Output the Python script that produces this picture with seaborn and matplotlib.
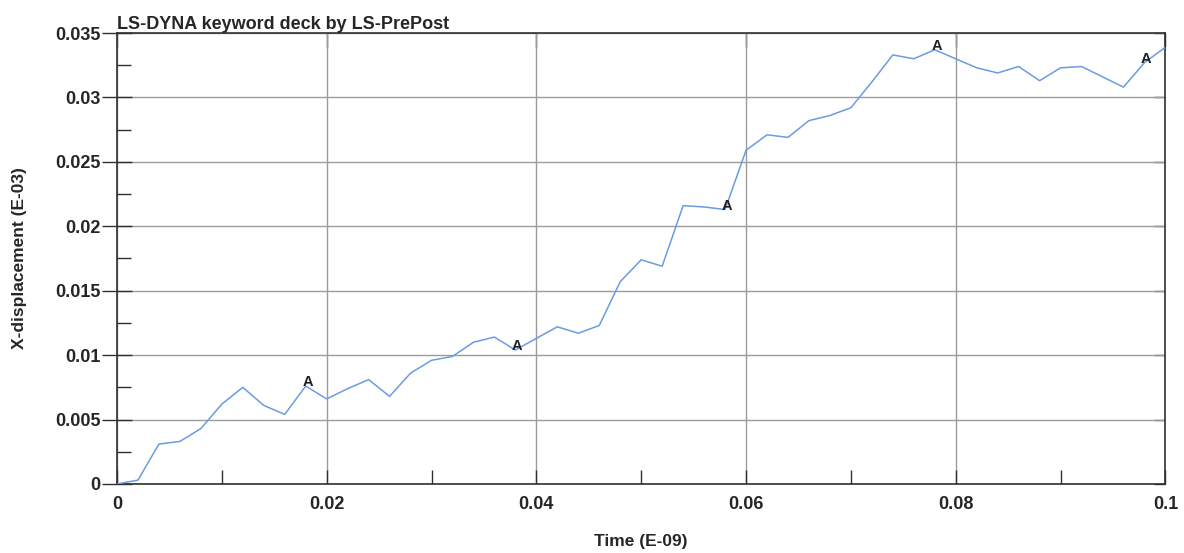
import numpy as np
import pandas as pd
import seaborn as sns
import matplotlib.pyplot as plt
from matplotlib import ticker, transforms

# Curve (time step 0.002)
time = [0.000, 0.002, 0.004, 0.006, 0.008, 0.010, 0.012, 0.014, 0.016, 0.018,
        0.020, 0.022, 0.024, 0.026, 0.028, 0.030, 0.032, 0.034, 0.036, 0.038,
        0.040, 0.042, 0.044, 0.046, 0.048, 0.050, 0.052, 0.054, 0.056, 0.058,
        0.060, 0.062, 0.064, 0.066, 0.068, 0.070, 0.072, 0.074, 0.076, 0.078,
        0.080, 0.082, 0.084, 0.086, 0.088, 0.090, 0.092, 0.094, 0.096, 0.098,
        0.100]
x_disp = [0.0000, 0.0003, 0.0031, 0.0033, 0.0043, 0.0062, 0.0075, 0.0061, 0.0054, 0.0076,
          0.0066, 0.0074, 0.0081, 0.0068, 0.0086, 0.0096, 0.0099, 0.0110, 0.0114, 0.0104,
          0.0113, 0.0122, 0.0117, 0.0123, 0.0157, 0.0174, 0.0169, 0.0216, 0.0215, 0.0213,
          0.0259, 0.0271, 0.0269, 0.0282, 0.0286, 0.0292, 0.0312, 0.0333, 0.0330, 0.0337,
          0.0330, 0.0323, 0.0319, 0.0324, 0.0313, 0.0323, 0.0324, 0.0316, 0.0308, 0.0327,
          0.0339]
label_every = 10
label_start = 9

x_ticks = [0, 0.02, 0.04, 0.06, 0.08, 0.1]
x_ticklabels = ["0", "0.02", "0.04", "0.06", "0.08", "0.1"]
y_ticks = [0, 0.005, 0.01, 0.015, 0.02, 0.025, 0.03, 0.035]
y_ticklabels = ["0", "0.005", "0.01", "0.015", "0.02", "0.025", "0.03", "0.035"]

df = pd.DataFrame({"time": time, "xdisp": x_disp})

sns.set_style("white")
plt.rcParams["font.family"] = ["Liberation Sans", "DejaVu Sans"]
plt.rcParams["font.weight"] = "bold"

fig = plt.figure(figsize=(11.84, 5.53), dpi=100)
ax = fig.add_axes([0.0988, 0.1248, 0.8855, 0.8155])

ax.grid(True, which="major", color="#9c9c9c", linewidth=1.0)
sns.lineplot(data=df, x="time", y="xdisp", ax=ax, color="#6a9be3",
             linewidth=1.1, zorder=3)

# curve labels every 10th point
shift = transforms.ScaledTranslation(2 / 100, 4 / 100, fig.dpi_scale_trans)
for i in range(label_start, len(time), label_every):
    ax.text(time[i], x_disp[i], "A", ha="center", va="center",
            fontsize=10.5, fontweight="bold", color="#202020", zorder=4,
            transform=ax.transData + shift)

ax.set_xlim(0, 0.1)
ax.set_ylim(0, 0.035)
ax.set_xticks(x_ticks)
ax.set_xticklabels(x_ticklabels)
ax.set_yticks(y_ticks)
ax.set_yticklabels(y_ticklabels)
ax.xaxis.set_minor_locator(ticker.MultipleLocator(0.01))
ax.yaxis.set_minor_locator(ticker.MultipleLocator(0.0025))

ax.tick_params(axis="both", which="both", direction="in", bottom=True, left=True,
               top=False, right=False, color="#303030", width=1.0,
               labelsize=13, length=10)
ax.tick_params(axis="y", which="major", direction="inout", length=22, pad=1)
ax.tick_params(axis="x", which="major", pad=9)

# inward major ticks on the top and right frame only
top = ax.secondary_xaxis("top")
top.set_xticks(x_ticks)
top.tick_params(direction="in", length=10, width=1.0, color="#303030",
                top=True, labeltop=False)
right = ax.secondary_yaxis("right")
right.set_yticks(y_ticks)
right.tick_params(direction="in", length=8, width=1.0, color="#303030",
                  right=True, labelright=False)
for sec in (top, right):
    for s in sec.spines.values():
        s.set_visible(False)

for s in ax.spines.values():
    s.set_color("#303030")
    s.set_linewidth(1.2)

ax.set_xlabel("Time (E-09)", fontsize=12.5, fontweight="bold", labelpad=15)
ax.set_ylabel("X-displacement (E-03)", fontsize=12.5, fontweight="bold", labelpad=20)
ax.set_title("LS-DYNA keyword deck by LS-PrePost", loc="left", fontsize=13,
             fontweight="bold", pad=3)

fig.savefig("out.png", dpi=100)
